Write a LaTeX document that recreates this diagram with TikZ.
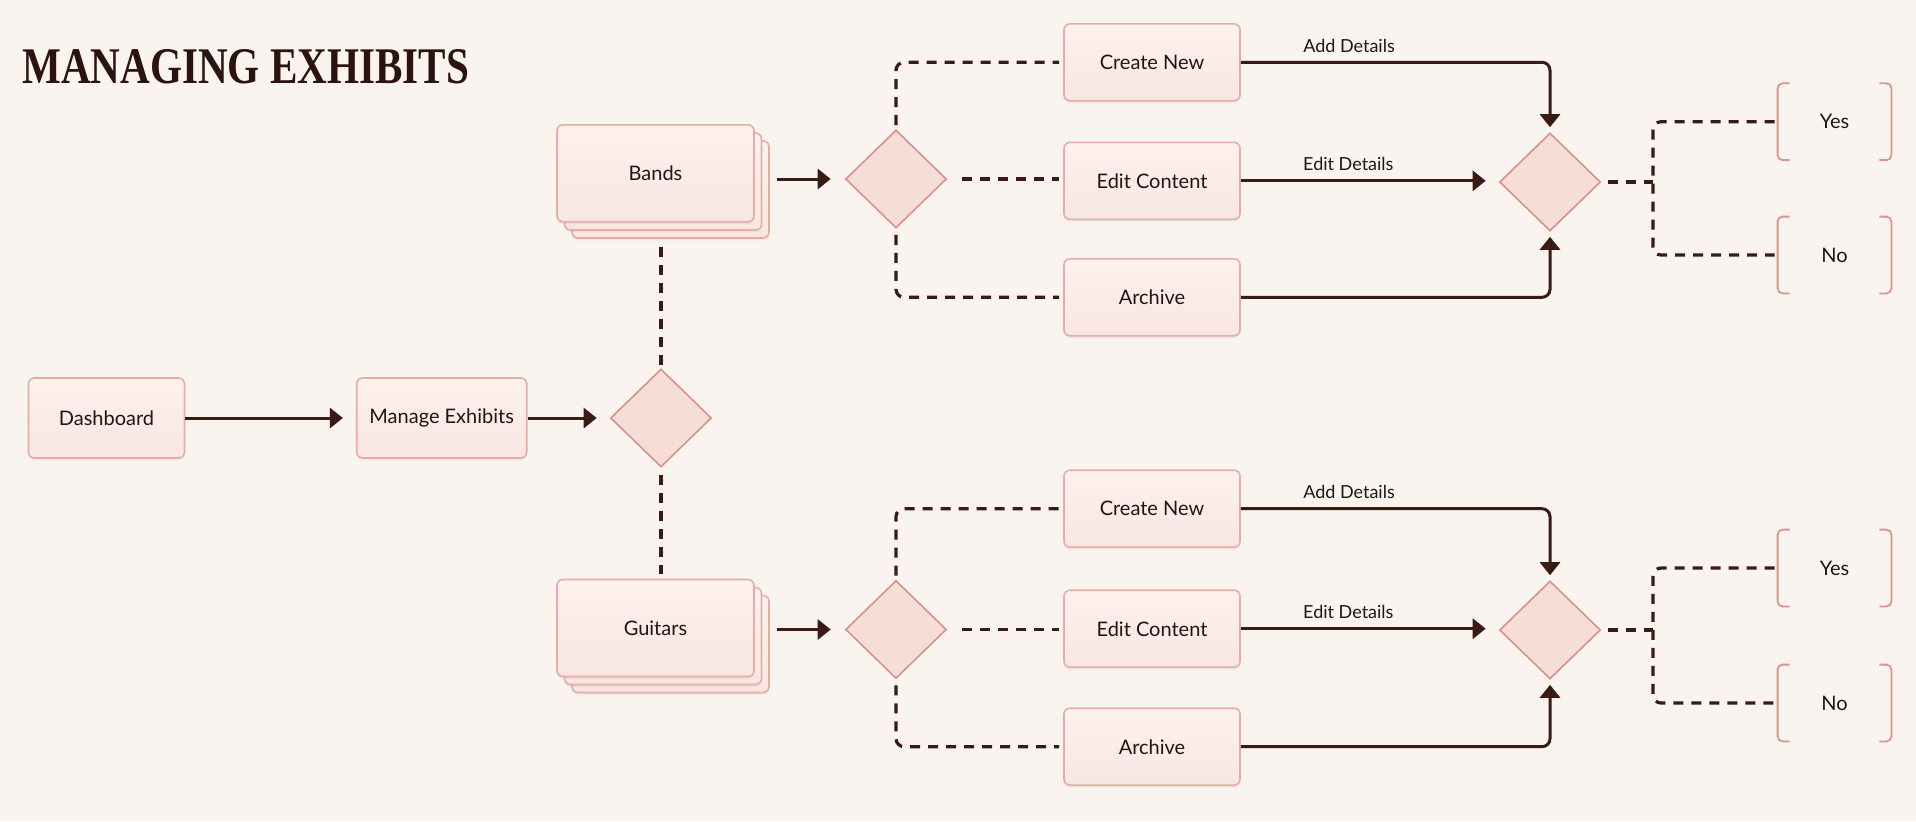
\documentclass[tikz,border=0pt]{standalone}
\usepackage{fontspec}
\setmainfont{Lato}
\newfontfamily\titlefont{Liberation Serif}
\usetikzlibrary{arrows.meta,shapes.geometric,shadows}
\definecolor{bg}{HTML}{FAF4F0}
\definecolor{boxtop}{HTML}{FDF1EE}
\definecolor{boxbot}{HTML}{F9E6E2}
\definecolor{boxdraw}{HTML}{E6ADA5}
\definecolor{diafill}{HTML}{F6DDD8}
\definecolor{diadraw}{HTML}{DA9188}
\definecolor{ln}{HTML}{3A1A14}
\definecolor{txt}{HTML}{1F1613}
\definecolor{ttl}{HTML}{2B1410}
\definecolor{brkc}{HTML}{D9958B}
\tikzset{
  box/.style={rectangle, rounded corners=3pt, draw=boxdraw, line width=0.8pt,
    top color=boxtop, bottom color=boxbot, minimum width=88pt, minimum height=38.5pt,
    inner sep=0pt, font=\fontsize{10}{12}\selectfont, text=txt,
    drop shadow={opacity=0.1, shadow xshift=0pt, shadow yshift=-1.2pt}},
  stackbox/.style={box, minimum width=98.5pt, minimum height=48.5pt},
  dia/.style={diamond, draw=diadraw, line width=0.8pt, fill=diafill,
    minimum width=50.5pt, minimum height=49pt, inner sep=0pt},
  conn/.style={draw=ln, line width=1.5pt, rounded corners=4pt,
    -{Triangle[length=6.5pt,width=10pt]}},
  dsh/.style={draw=ln, line width=1.6pt, dash pattern=on 5pt off 4pt, rounded corners=4pt},
  lbl/.style={font=\fontsize{9}{11}\selectfont, text=txt, inner sep=0pt},
  brk/.style={draw=brkc, line width=0.9pt, rounded corners=2.5pt},
  ans/.style={rectangle, minimum width=56.5pt, minimum height=38pt, inner sep=0pt,
    font=\fontsize{10}{12}\selectfont, text=txt}
}
\begin{document}
\begin{tikzpicture}[x=0.5pt, y=-0.5pt]
\fill[bg] (0,0) rectangle (1916,821);
\useasboundingbox (0,0) rectangle (1916,821);

% title
\node[anchor=base west, inner sep=0pt, text=ttl] (title) at (22,83)
  {\scalebox{0.80}[1]{\titlefont\bfseries\fontsize{25.7}{28}\selectfont MANAGING EXHIBITS}};

% left chain
\node[box, minimum width=78pt, minimum height=40pt] (dash) at (106.5,418) {Dashboard};
\node[box, minimum width=85pt, minimum height=40pt] (man) at (441.7,418) {Manage Exhibits};
\node[dia] (d1) at (661,418) {};

% stacks
\node[stackbox] (bands3) at (670.5,189.5) {};
\node[stackbox] (bands2) at (663,181.5) {};
\node[stackbox] (bands) at (655.5,173.3) {Bands};
\node[stackbox] (gui3) at (670.5,644) {};
\node[stackbox] (gui2) at (663,636) {};
\node[stackbox] (gui) at (655.5,628) {Guitars};

% decision diamonds
\node[dia] (d2a) at (896,179) {};
\node[dia] (d2b) at (896,629.5) {};
\node[dia] (d3a) at (1550,182) {};
\node[dia] (d3b) at (1550,630) {};

% action boxes
\node[box] (cna) at (1152,62.3) {Create New};
\node[box] (eca) at (1152,180.8) {Edit Content};
\node[box] (ara) at (1152,297.3) {Archive};
\node[box] (cnb) at (1152,508.7) {Create New};
\node[box] (ecb) at (1152,628.7) {Edit Content};
\node[box] (arb) at (1152,746.7) {Archive};

% answers
\node[ans] (yesa) at (1834.5,121.7) {Yes};
\node[ans] (noa) at (1834.5,255) {No};
\node[ans] (yesb) at (1834.5,568) {Yes};
\node[ans] (nob) at (1834.5,703) {No};
\foreach \n in {yesa,noa,yesb,nob}{
  \draw[brk] ([xshift=6pt]\n.north west) -- (\n.north west) -- (\n.south west) -- ([xshift=6pt]\n.south west);
  \draw[brk] ([xshift=-6pt]\n.north east) -- (\n.north east) -- (\n.south east) -- ([xshift=-6pt]\n.south east);
}

\coordinate (ja) at (1653,182);
\coordinate (jb) at (1653,630);

% connectors: left chain
\draw[conn, shorten >=6.5pt] (dash.east) -- (man.west);
\draw[conn, shorten >=6.5pt] (man.east) -- (man.east -| d1.west);
\draw[dsh, shorten <=4pt, shorten >=1.5pt] (d1.north |- bands3.south) -- (d1.north);
\draw[dsh, shorten <=3.5pt, shorten >=2.5pt] (d1.south) -- (d1.south |- gui.north);

% upper branch
\draw[conn, shorten <=3.5pt, shorten >=7pt] (bands3.east |- d2a.west) -- (d2a.west);
\draw[dsh, shorten <=2pt, shorten >=2pt] (d2a.north) |- (cna.west);
\draw[dsh, shorten <=7.5pt, shorten >=2pt] (d2a.east) -- (d2a.east -| eca.west);
\draw[dsh, shorten <=3pt, shorten >=2pt] (d2a.south) |- (ara.west);
\draw[conn, shorten >=2.5pt] (cna.east) -| node[lbl, pos=0.175, anchor=base, yshift=5pt] {Add Details} (d3a.north);
\draw[conn, shorten >=6.5pt] (eca.east) -- node[lbl, pos=0.417, anchor=base, yshift=5pt] {Edit Details} (eca.east -| d3a.west);
\draw[conn, shorten >=2.5pt] (ara.east) -| (d3a.south);
\draw[dsh, shorten <=3.5pt] (d3a.east) -- (ja);
\draw[dsh, shorten <=1.5pt, shorten >=1.5pt] (yesa.west) -| (ja) |- (noa.west);

% lower branch
\draw[conn, shorten <=3.5pt, shorten >=7pt] (gui3.east |- d2b.west) -- (d2b.west);
\draw[dsh, shorten <=2pt, shorten >=2pt] (d2b.north) |- (cnb.west);
\draw[dsh, shorten <=7.5pt, shorten >=2pt] (d2b.east) -- (d2b.east -| ecb.west);
\draw[dsh, shorten <=3pt, shorten >=2pt] (d2b.south) |- (arb.west);
\draw[conn, shorten >=2.5pt] (cnb.east) -| node[lbl, pos=0.175, anchor=base, yshift=5pt] {Add Details} (d3b.north);
\draw[conn, shorten >=6.5pt] (ecb.east) -- node[lbl, pos=0.417, anchor=base, yshift=5pt] {Edit Details} (ecb.east -| d3b.west);
\draw[conn, shorten >=2.5pt] (arb.east) -| (d3b.south);
\draw[dsh, shorten <=3.5pt] (d3b.east) -- (jb);
\draw[dsh, shorten <=1.5pt, shorten >=1.5pt] (yesb.west) -| (jb) |- (nob.west);
\end{tikzpicture}
\end{document}
